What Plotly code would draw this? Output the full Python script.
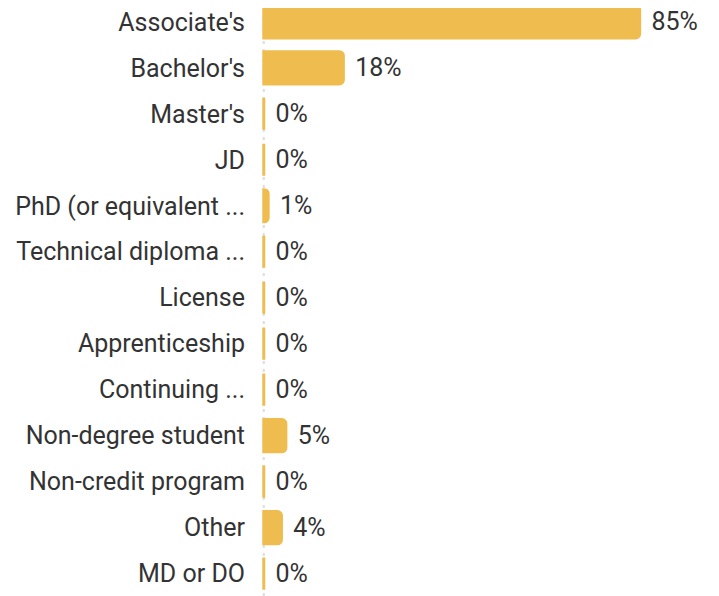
import plotly.graph_objects as go

categories = ["Associate's", "Bachelor's", "Master's", "JD", "PhD (or equivalent ...",
              "Technical diploma ...", "License", "Apprenticeship", "Continuing ...",
              "Non-degree student", "Non-credit program", "Other", "MD or DO"]
values = [85, 18, 0, 0, 1, 0, 0, 0, 0, 5, 0, 4, 0]
value_labels = [f"\u00a0\u200a{v}%" for v in values]

BAR = "#EFBD4F"
TXT = "#333333"
FS = 25

fig = go.Figure(go.Bar(
    x=values, y=categories, orientation="h",
    marker=dict(color=BAR, line=dict(color=BAR, width=3)),
    text=value_labels, textposition="outside", cliponaxis=False,
    textfont=dict(family="Roboto", size=FS, color=TXT),
    hoverinfo="skip",
))
fig.add_shape(type="line", xref="x", yref="paper", x0=0, x1=0, y0=0, y1=1,
              line=dict(color="#DDDDDD", width=2, dash="3px,5px"), layer="below")
fig.update_layout(
    width=719, height=596,
    margin=dict(l=254, r=21, t=0, b=0, autoexpand=False),
    paper_bgcolor="white", plot_bgcolor="white",
    bargap=0.30, barcornerradius=4,
    showlegend=False,
    font=dict(family="Roboto", size=FS, color=TXT),
    xaxis=dict(range=[-0.4, 100], visible=False, fixedrange=True, automargin=False),
    yaxis=dict(categoryorder="array", categoryarray=categories, range=[12.66, -0.30],
               showgrid=False, zeroline=False, showline=False, ticks="", automargin=False,
               ticklabelstandoff=16, tickfont=dict(family="Roboto", size=FS, color=TXT)),
)
fig.write_html("out.html")
